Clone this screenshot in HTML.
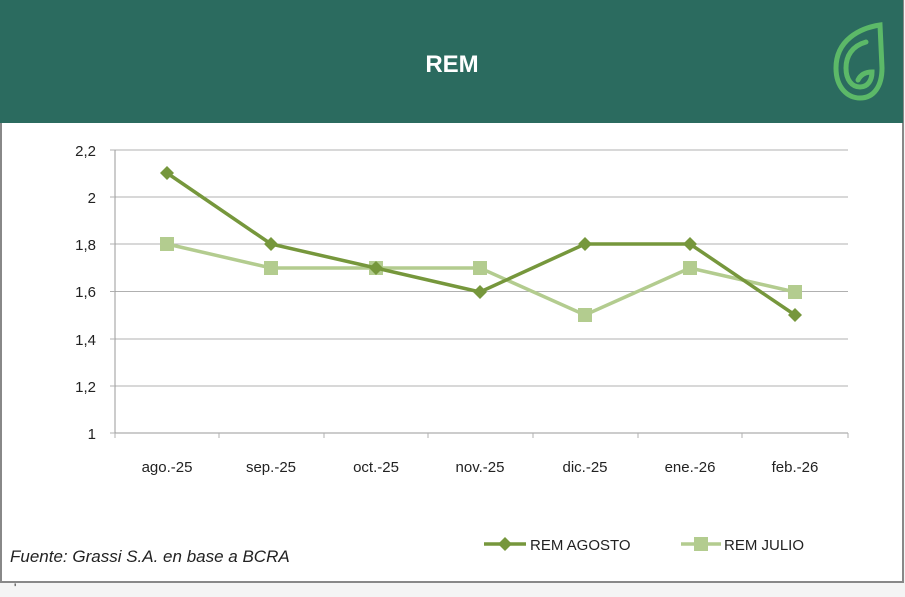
<!DOCTYPE html>
<html><head><meta charset="utf-8"><style>
body{margin:0;width:905px;height:597px;background:#f4f4f4;overflow:hidden;font-family:"Liberation Sans",sans-serif}
</style></head><body>
<svg width="905" height="597" xmlns="http://www.w3.org/2000/svg" style="position:absolute;left:0;top:0">
<rect x="1" y="1" width="902" height="581" fill="#fff" stroke="#888" stroke-width="2"/>
<rect x="0" y="0" width="903" height="123" fill="#2b6b5f"/>
<text x="452" y="72" fill="#fff" font-size="24" font-weight="bold" text-anchor="middle">REM</text>
<g fill="none" stroke="#5cb968" stroke-width="5" stroke-linecap="round">
<path d="M880 25 C860 28 836 40 836 68 C836 88 848 98 860 98 C874 98 882 86 882 68 Z"/>
<path d="M866 42 C852 46 846 56 846 68 C846 80 852 87 860 87 C868 87 872 80 872 72 C864 72 860 76 858 80"/>
</g>
<g stroke="#b0b0b0" stroke-width="1">
<line x1="115" y1="150" x2="848" y2="150"/><line x1="115" y1="197" x2="848" y2="197"/>
<line x1="115" y1="244" x2="848" y2="244"/><line x1="115" y1="291.5" x2="848" y2="291.5"/>
<line x1="115" y1="339" x2="848" y2="339"/><line x1="115" y1="386" x2="848" y2="386"/>
<line x1="115" y1="433" x2="848" y2="433" stroke="#999"/>
<line x1="115" y1="150" x2="115" y2="433" stroke="#999"/>
<line x1="110" y1="150" x2="115" y2="150"/><line x1="110" y1="197" x2="115" y2="197"/><line x1="110" y1="244" x2="115" y2="244"/><line x1="110" y1="291.5" x2="115" y2="291.5"/><line x1="110" y1="339" x2="115" y2="339"/><line x1="110" y1="386" x2="115" y2="386"/><line x1="110" y1="433" x2="115" y2="433"/>
<line x1="219" y1="433" x2="219" y2="438"/><line x1="324" y1="433" x2="324" y2="438"/><line x1="428" y1="433" x2="428" y2="438"/><line x1="533" y1="433" x2="533" y2="438"/><line x1="638" y1="433" x2="638" y2="438"/><line x1="742" y1="433" x2="742" y2="438"/><line x1="848" y1="433" x2="848" y2="438"/><line x1="115" y1="433" x2="115" y2="438"/>
</g>
<g font-size="15" fill="#222" text-anchor="end">
<text x="96" y="156">2,2</text><text x="96" y="203">2</text><text x="96" y="250">1,8</text><text x="96" y="297">1,6</text><text x="96" y="345">1,4</text><text x="96" y="392">1,2</text><text x="96" y="439">1</text>
</g>
<g font-size="15" fill="#222" text-anchor="middle">
<text x="167" y="472">ago.-25</text><text x="271" y="472">sep.-25</text><text x="376" y="472">oct.-25</text><text x="480" y="472">nov.-25</text><text x="585" y="472">dic.-25</text><text x="690" y="472">ene.-26</text><text x="795" y="472">feb.-26</text>
</g>
<polyline fill="none" stroke="#b3cc8f" stroke-width="3.5" points="167,244 271,268 376,268 480,268 585,315 690,268 795,292"/>
<g fill="#b3cc8f">
<rect x="160" y="237" width="14" height="14"/><rect x="264" y="261" width="14" height="14"/><rect x="369" y="261" width="14" height="14"/><rect x="473" y="261" width="14" height="14"/><rect x="578" y="308" width="14" height="14"/><rect x="683" y="261" width="14" height="14"/><rect x="788" y="285" width="14" height="14"/>
</g>
<polyline fill="none" stroke="#76973c" stroke-width="3.5" points="167,173 271,244 376,268 480,292 585,244 690,244 795,315"/>
<g fill="#76973c">
<path d="M167 166l7 7-7 7-7-7z"/><path d="M271 237l7 7-7 7-7-7z"/><path d="M376 261l7 7-7 7-7-7z"/><path d="M480 285l7 7-7 7-7-7z"/><path d="M585 237l7 7-7 7-7-7z"/><path d="M690 237l7 7-7 7-7-7z"/><path d="M795 308l7 7-7 7-7-7z"/>
</g>
<line x1="484" y1="544" x2="526" y2="544" stroke="#76973c" stroke-width="3.5"/>
<path d="M505 537l7 7-7 7-7-7z" fill="#76973c"/>
<text x="530" y="550" font-size="15" fill="#222">REM AGOSTO</text>
<line x1="681" y1="544" x2="721" y2="544" stroke="#b3cc8f" stroke-width="3.5"/>
<rect x="694" y="537" width="14" height="14" fill="#b3cc8f"/>
<text x="724" y="550" font-size="15" fill="#222">REM JULIO</text>
<text x="10" y="562" font-size="17" font-style="italic" fill="#222">Fuente: Grassi S.A.  en base a BCRA</text>
<text x="14" y="592" font-size="12" fill="#222">'</text>
</svg>
</body></html>
